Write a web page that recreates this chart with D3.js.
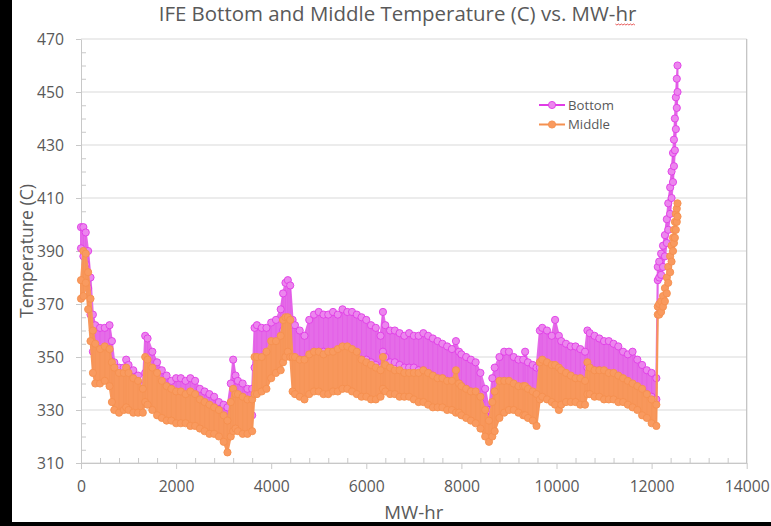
<!DOCTYPE html>
<html><head><meta charset="utf-8">
<script src="https://cdn.jsdelivr.net/npm/d3@7"></script>
<style>
body{margin:0;background:#fff;}
svg{display:block;font-family:'Open Sans',sans-serif;}
</style>
</head><body>
<svg id="c" width="771" height="526"></svg>
<script>
// ---- data ----
const mwhr = [0,50,100,150,200,250,300,400,500,600,650,700,800,900,950,1000,1100,1200,1300,1350,1400,1500,1600,1700,1800,1900,2000,2100,2200,2300,2400,2500,2600,2700,2800,2900,3000,3080,3150,3200,3250,3300,3400,3500,3600,3650,3700,3800,3900,4000,4100,4200,4250,4300,4350,4400,4450,4500,4600,4700,4800,4900,5000,5100,5200,5300,5400,5500,5600,5700,5800,5900,6000,6100,6200,6300,6350,6400,6500,6600,6700,6800,6900,7000,7100,7200,7300,7400,7500,7600,7700,7800,7885,7950,8000,8100,8200,8300,8400,8500,8580,8650,8700,8800,8900,9000,9100,9200,9300,9340,9400,9500,9580,9650,9700,9800,9900,9970,10050,10100,10200,10300,10400,10500,10600,10650,10700,10800,10900,11000,11100,11200,11300,11400,11500,11600,11700,11800,11900,12000,12100,12130,12160,12200,12240,12280,12320,12350,12390,12420,12450,12470,12490,12510,12530,12545];
const bottomHi = [399,399,397,390,380,366,362,361,361,362,356,348,346,346,349,347,345,343,339,358,357,352,348,345,343,341,342,342,341,342,341,338,337,336,335,333,332,331,340,349,343,341,340,338,338,361,362,361,361,363,364,368,374,378,379,377,364,362,360,358,364,366,367,366,366,367,366,368,367,367,366,365,364,362,361,358,367,362,360,360,359,358,359,358,358,359,358,357,356,355,354,353,356,352,351,350,349,348,344,338,330,342,346,350,352,352,350,349,349,352,348,347,346,360,361,360,358,364,358,356,355,354,354,353,352,360,359,358,357,356,356,355,354,352,351,352,349,347,345,344,342,384,386,389,392,396,402,408,414,420,427,432,440,448,455,460];
const bottomLo = [391,388,385,376,366,352,350,350,350,349,344,340,338,338,339,338,336,335,334,344,343,340,337,335,334,333,332,332,331,331,330,328,327,326,325,324,322,320,328,330,330,330,329,328,328,346,348,348,350,352,354,356,360,364,364,362,350,349,349,348,350,352,352,352,351,352,351,352,352,351,350,349,349,348,347,346,352,350,348,348,347,346,346,346,345,345,344,343,342,342,341,340,340,340,339,338,337,335,333,328,326,330,333,337,338,338,337,337,336,336,336,335,334,346,347,346,345,346,345,344,343,342,342,341,341,346,346,345,345,344,344,343,342,341,340,339,338,337,336,335,334,379,380,381,384,388,393,398,404,410,416,422,428,436,444,450];
const middleHi = [379,390,389,382,372,360,355,353,354,353,348,346,344,344,346,344,342,341,338,350,349,346,344,341,339,338,337,337,336,337,336,334,333,332,331,330,328,326,333,338,336,336,335,334,334,350,350,350,352,356,356,358,364,365,365,364,350,350,349,349,351,352,352,351,352,352,353,354,354,353,352,349,348,347,346,345,350,347,346,345,345,344,344,344,344,345,344,343,342,342,341,341,345,340,339,338,337,337,335,330,326,333,337,341,341,341,340,339,339,339,338,337,336,348,349,348,347,347,346,345,344,343,342,342,341,348,346,345,345,345,344,344,343,342,341,340,339,338,336,334,332,369,370,371,373,376,380,384,388,392,395,398,401,404,406,408];
const middleLo = [372,373,378,368,356,344,340,340,341,339,333,330,329,330,331,330,329,329,329,333,332,330,328,327,326,326,325,325,325,324,324,323,322,321,321,320,318,314,320,322,323,322,321,321,322,336,336,337,338,342,344,345,348,350,352,350,337,336,335,334,336,337,337,336,336,337,337,338,338,337,336,335,335,334,334,335,338,337,336,336,335,335,335,334,333,333,332,331,331,331,330,330,329,329,328,327,326,325,323,320,318,320,322,327,329,330,330,329,328,328,327,326,324,334,335,334,333,332,330,332,333,333,333,332,332,336,336,335,335,334,334,334,333,333,332,331,330,328,327,325,324,366,366,367,369,371,374,378,382,386,390,393,395,398,401,403];
const xTicks = [0,2000,4000,6000,8000,10000,12000,14000];
const yTicks = [310,330,350,370,390,410,430,450,470];
const seriesNames = ["Bottom","Middle"];

// ---- chart ----
const W = 771, H = 526;
const P = {left:81, right:746.7, top:39, bottom:463};
const svg = d3.select('#c');
svg.append('rect').attr('width',W).attr('height',H).attr('fill','#fff');

const x = d3.scaleLinear().domain([0,14000]).range([P.left,P.right]);
const y = d3.scaleLinear().domain([310,470]).range([P.bottom,P.top]);

function fit(sel, target){
  const n = sel.node();
  const fs = parseFloat(sel.attr('font-size'));
  const l = n.getComputedTextLength();
  sel.attr('font-size', fs*target/l);
}

// gridlines
svg.append('g').selectAll('line').data(yTicks).join('line')
  .attr('x1',P.left).attr('x2',P.right)
  .attr('y1',d=>y(d)).attr('y2',d=>y(d))
  .attr('stroke','#D9D9D9').attr('stroke-width',1);
// right border
svg.append('line').attr('x1',P.right).attr('x2',P.right).attr('y1',P.top).attr('y2',P.bottom)
  .attr('stroke','#BFBFBF').attr('stroke-width',1.2);

// minor ticks
const yMinor = d3.range(310,470,5).filter(v=>(v-310)%20!==0);
const xMinor = d3.range(0,14000,400).filter(v=>v%2000!==0);
const gyMinor = svg.append('g').attr('transform',`translate(${P.left},0)`)
  .call(d3.axisLeft(y).tickValues(yMinor).tickSizeInner(-5).tickSizeOuter(0).tickFormat(''));
const gxMinor = svg.append('g').attr('transform',`translate(0,${P.bottom})`)
  .call(d3.axisBottom(x).tickValues(xMinor).tickSizeInner(-5).tickSizeOuter(0).tickFormat(''));
[gyMinor,gxMinor].forEach(g=>{g.select('.domain').remove(); g.selectAll('line').attr('stroke','#C8C8C8');});

// major axes
const gy = svg.append('g').attr('transform',`translate(${P.left},0)`)
  .call(d3.axisLeft(y).tickValues(yTicks).tickSizeInner(5).tickSizeOuter(0).tickPadding(12).tickFormat(d3.format('d')));
const gx = svg.append('g').attr('transform',`translate(0,${P.bottom})`)
  .call(d3.axisBottom(x).tickValues(xTicks).tickSizeInner(6).tickSizeOuter(0).tickPadding(12).tickFormat(d3.format('d')));
[gy,gx].forEach(g=>{
  g.select('.domain').attr('stroke','#C8C8C8');
  g.selectAll('line').attr('stroke','#C8C8C8');
  g.selectAll('text').attr('fill','#595959').attr('font-family',"'Open Sans',sans-serif");
});
{
  const t = gx.selectAll('text').filter(d=>d===14000);
  t.attr('font-size',16);
  const l = t.node().getComputedTextLength();
  const fs = 16*45/l;
  gx.selectAll('text').attr('font-size',fs);
  gy.selectAll('text').attr('font-size',fs);
}

// series
const colors = {
  Bottom:{area:'#E56CE8', fill:'#EC86EE', stroke:'#E03CE6'},
  Middle:{area:'#F8975B', fill:'#F99A5F', stroke:'#F5904F'}
};
const data = {
  Bottom: mwhr.map((m,i)=>({x:m, hi:bottomHi[i], lo:bottomLo[i]})),
  Middle: mwhr.map((m,i)=>({x:m, hi:middleHi[i], lo:middleLo[i]}))
};
const area = d3.area().x(d=>x(d.x)).y0(d=>y(d.lo)).y1(d=>y(d.hi));
const zig = d3.line().x(p=>x(p.x)).y(p=>y(p.v));
const plot = svg.append('g');
seriesNames.forEach(name=>{
  const c = colors[name], d = data[name];
  const g = plot.append('g');
  g.append('path').datum(d).attr('d',area).attr('fill',c.area)
    .attr('stroke',c.area).attr('stroke-width',2).attr('stroke-linejoin','round');
  const pts = d.flatMap((p,i)=> i%2 ? [{x:p.x,v:p.lo},{x:p.x,v:p.hi}] : [{x:p.x,v:p.hi},{x:p.x,v:p.lo}]);
  g.append('path').datum(pts).attr('d',zig).attr('fill','none')
    .attr('stroke',c.stroke).attr('stroke-width',1).attr('stroke-opacity',0.25);
  g.selectAll('circle').data(pts).join('circle')
    .attr('cx',p=>x(p.x)).attr('cy',p=>y(p.v)).attr('r',3.6)
    .attr('fill',c.fill).attr('stroke',c.stroke).attr('stroke-width',0.9);
});

// legend
const lg = svg.append('g');
const legY = [105,124.5];
seriesNames.forEach((name,i)=>{
  const c = colors[name];
  lg.append('line').attr('x1',539).attr('x2',565).attr('y1',legY[i]).attr('y2',legY[i])
    .attr('stroke',c.stroke).attr('stroke-width',2);
  lg.append('circle').attr('cx',552).attr('cy',legY[i]).attr('r',3.6)
    .attr('fill',c.fill).attr('stroke',c.stroke).attr('stroke-width',0.9);
  const t = lg.append('text').attr('x',568).attr('y',legY[i]).attr('dy','0.35em')
    .attr('fill','#595959').attr('font-size',15).text(name);
  if(i===0) fit(t,46);
});
{
  const fs = lg.select('text').attr('font-size');
  lg.selectAll('text').attr('font-size',fs);
}

// titles
const title = svg.append('text').attr('x',397.5).attr('y',21).attr('text-anchor','middle')
  .attr('fill','#595959').attr('font-size',20).text('IFE Bottom and Middle Temperature (C) vs. MW-hr');
fit(title,478);
const xt = svg.append('text').attr('x',(P.left+P.right)/2).attr('y',519).attr('text-anchor','middle')
  .attr('fill','#595959').attr('font-size',18).text('MW-hr');
fit(xt,59);
const yt = svg.append('text').attr('transform',`translate(33,${(P.top+P.bottom)/2}) rotate(-90)`)
  .attr('text-anchor','middle').attr('fill','#595959').attr('font-size',18).text('Temperature (C)');
fit(yt,134);

// spell-check squiggle under "hr" in title
{
  const n = title.node();
  const full = title.text();
  const idx = full.lastIndexOf('hr');
  const start = n.getStartPositionOfChar(idx).x;
  const end = n.getEndPositionOfChar(full.length-1).x;
  const pts = [];
  for(let px=start; px<=end; px+=1.5){ pts.push([px, 24 + ((Math.round((px-start)/1.5))%2 ? 1 : 0)]); }
  svg.append('path').attr('d',d3.line()(pts)).attr('fill','none').attr('stroke','#E03030').attr('stroke-width',0.8);
}

// black frame edges of the screenshot
svg.append('rect').attr('x',0).attr('y',0).attr('width',12).attr('height',H).attr('fill','#000');
svg.append('rect').attr('x',0).attr('y',522).attr('width',W).attr('height',4).attr('fill','#000');
</script>
</body></html>
